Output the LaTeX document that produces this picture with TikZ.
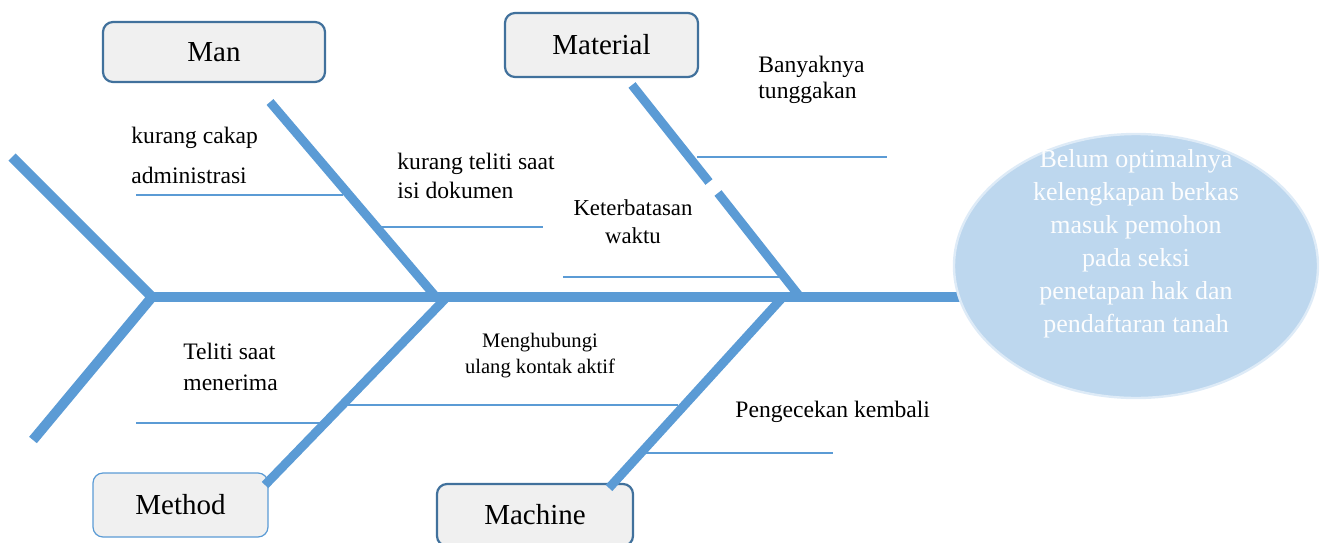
\documentclass[tikz,border=0pt]{standalone}
\usepackage{fontspec}
\setmainfont{Liberation Serif}
\usetikzlibrary{shapes.geometric}
\definecolor{fishblue}{HTML}{5B9BD5}
\definecolor{boxline}{HTML}{41719C}
\definecolor{boxfill}{HTML}{F0F0F0}
\definecolor{headfill}{HTML}{BDD7EE}
\definecolor{headline}{HTML}{DEEBF7}
\begin{document}
\begin{tikzpicture}[x=0.5pt,y=-0.5pt,
		spine/.style={line width=5pt,fishblue},
		bone/.style={line width=4.5pt,fishblue},
		rib/.style={line width=0.9pt,fishblue},
		catbox/.style={draw=boxline,line width=1.1pt,fill=boxfill,rounded corners=5pt,minimum width=111pt,minimum height=30pt,inner sep=0pt,font=\fontsize{14.5}{17}\selectfont},
		cause/.style={inner sep=0pt,align=left,anchor=base west,font=\fontsize{11.8}{14}\selectfont}]
	\useasboundingbox (0,0) rectangle (1323,542);
	\clip (0,0) rectangle (1323,542);
	
	% kategori
	\node(Man) at (214,52)[catbox]{Man};
	\node(Material) at (601.5,45)[catbox,minimum width=96.5pt,minimum height=32pt]{Material};
	\node(Method) at (180.5,505)[catbox,draw=fishblue,line width=0.6pt,minimum width=87.5pt,minimum height=32pt]{Method};
	\node(Machine) at (535,515)[catbox,minimum width=98pt,minimum height=31pt]{Machine};
	
	% titik tulang
	\coordinate(T) at (152,297);
	\coordinate(TU) at (12,157);
	\coordinate(TL) at (33,440);
	\coordinate(H) at (965,297);
	\coordinate(ManTop) at (270,102);
	\coordinate(ManEnd) at (436,297);
	\coordinate(MatTop) at (632,85);
	\coordinate(MatGapA) at (709,182);
	\coordinate(MatGapB) at (718,193);
	\coordinate(MatEnd) at (800,297);
	\coordinate(MetEnd) at (445,299);
	\coordinate(MetLow) at (265,485);
	\coordinate(MacEnd) at (782,298);
	\coordinate(MacLow) at (609,488);
	
	\draw[spine] (TU) -- (T) -- (TL);
	\draw[spine] (T) -- (H);
	\draw[bone] (ManTop) -- (ManEnd);
	\draw[bone] (MatTop) -- (MatGapA);
	\draw[bone] (MatGapB) -- (MatEnd);
	\draw[bone] (MetEnd) -- (MetLow);
	\draw[bone] (MacEnd) -- (MacLow);
	
	% garis sebab
	\draw[rib] (136,195) -- (343,195);
	\draw[rib] (380,227) -- (543,227);
	\draw[rib] (563,277) -- (783,277);
	\draw[rib] (697,157) -- (887,157);
	\draw[rib] (136,423) -- (320,423);
	\draw[rib] (347,405) -- (678,405);
	\draw[rib] (643,453) -- (833,453);
	
	% sebab (base = baris terakhir)
	\node(c1) at (131,183)[cause,font=\fontsize{11.8}{20}\selectfont]{kurang cakap\\administrasi};
	\node(c2) at (397,198)[cause,font=\fontsize{11.8}{14.5}\selectfont]{kurang teliti saat\\isi dokumen};
	\node(c3) at (633,243)[cause,anchor=base,align=center,font=\fontsize{11.4}{14}\selectfont]{Keterbatasan\\waktu};
	\node(c4) at (758,98)[cause,font=\fontsize{11.8}{13}\selectfont]{Banyaknya\\tunggakan};
	\node(c5) at (183,390)[cause,font=\fontsize{11.8}{15.5}\selectfont]{Teliti saat\\menerima};
	\node(c6) at (540,373)[cause,anchor=base,align=center,font=\fontsize{10.3}{13}\selectfont]{Menghubungi\\ulang kontak aktif};
	\node(c7) at (735,417)[cause]{Pengecekan kembali};
	
	% kepala
	\node(Head) at (1136,266)[ellipse,draw=headline,line width=1.2pt,fill=headfill,minimum width=182pt,minimum height=132pt]{};
	\node(HeadText) at (1136,332)[anchor=base,inner sep=0pt,align=center,text=white!95!headfill,font=\fontsize{13}{16.5}\selectfont]{Belum optimalnya\\kelengkapan berkas\\masuk pemohon\\pada seksi\\penetapan hak dan\\pendaftaran tanah};
\end{tikzpicture}
\end{document}
